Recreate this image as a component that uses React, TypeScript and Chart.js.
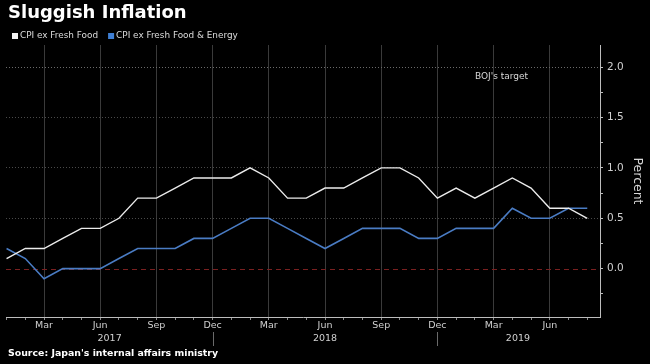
import { useEffect, useRef } from 'react';
import { Chart, registerables } from 'chart.js';

Chart.register(...registerables);

const months = [
  '2017-01', '2017-02', '2017-03', '2017-04', '2017-05', '2017-06', '2017-07', '2017-08', '2017-09', '2017-10', '2017-11', '2017-12',
  '2018-01', '2018-02', '2018-03', '2018-04', '2018-05', '2018-06', '2018-07', '2018-08', '2018-09', '2018-10', '2018-11', '2018-12',
  '2019-01', '2019-02', '2019-03', '2019-04', '2019-05', '2019-06', '2019-07', '2019-08',
];

const cpiExFreshFood = [
  0.1, 0.2, 0.2, 0.3, 0.4, 0.4, 0.5, 0.7, 0.7, 0.8, 0.9, 0.9,
  0.9, 1.0, 0.9, 0.7, 0.7, 0.8, 0.8, 0.9, 1.0, 1.0, 0.9, 0.7,
  0.8, 0.7, 0.8, 0.9, 0.8, 0.6, 0.6, 0.5,
];

const cpiExFreshFoodEnergy = [
  0.2, 0.1, -0.1, 0.0, 0.0, 0.0, 0.1, 0.2, 0.2, 0.2, 0.3, 0.3,
  0.4, 0.5, 0.5, 0.4, 0.3, 0.2, 0.3, 0.4, 0.4, 0.4, 0.3, 0.3,
  0.4, 0.4, 0.4, 0.6, 0.5, 0.5, 0.6, 0.6,
];

const monthNames = ['Jan', 'Feb', 'Mar', 'Apr', 'May', 'Jun', 'Jul', 'Aug', 'Sep', 'Oct', 'Nov', 'Dec'];
const quarterLabels = ['Mar', 'Jun', 'Sep', 'Dec'];
const yTickValues = [-0.25, 0, 0.25, 0.5, 0.75, 1.0, 1.25, 1.5, 1.75, 2.0];
const yearLabels = ['2017', '2018', '2019'];
const yearLabelAt = [5.5, 17.0, 27.3];
const bojTarget = 2.0;

const seriesNames = ['CPI ex Fresh Food', 'CPI ex Fresh Food & Energy'];
const seriesColors = ['#ececec', '#4a7cc4'];

const FONT = '"DejaVu Sans", Verdana, sans-serif';

function monthLabel(i: number) {
  const m = months[i];
  if (!m) return '';
  const name = monthNames[parseInt(m.slice(5, 7), 10) - 1];
  return quarterLabels.includes(name) ? name : '';
}

const decorPlugin = {
  id: 'decor',
  beforeDatasetsDraw(chart: any) {
    const { ctx, chartArea, scales } = chart;
    const y = scales.y;
    // red dashed zero line
    const y0 = y.getPixelForValue(0);
    ctx.save();
    ctx.strokeStyle = '#7a2020';
    ctx.lineWidth = 1;
    ctx.setLineDash([5, 4]);
    ctx.beginPath();
    ctx.moveTo(chartArea.left, Math.round(y0) + 0.5);
    ctx.lineTo(chartArea.right, Math.round(y0) + 0.5);
    ctx.stroke();
    ctx.restore();

    // BOJ target label
    ctx.save();
    ctx.fillStyle = '#d8d8d8';
    ctx.font = `9px ${FONT}`;
    ctx.textBaseline = 'middle';
    ctx.textAlign = 'left';
    ctx.fillText("BOJ's target", 475, y.getPixelForValue(bojTarget) + 9);
    ctx.restore();
  },
  afterDraw(chart: any) {
    const { ctx, chartArea, scales } = chart;
    const x = scales.x;
    ctx.save();
    // title
    ctx.fillStyle = '#ffffff';
    ctx.font = `bold 18px ${FONT}`;
    ctx.textBaseline = 'alphabetic';
    ctx.textAlign = 'left';
    ctx.fillText('Sluggish Inflation', 8, 18);

    // legend
    ctx.font = `8.9px ${FONT}`;
    ctx.textBaseline = 'middle';
    let lx = 12;
    seriesNames.forEach((name, i) => {
      ctx.fillStyle = i === 0 ? '#f2f2f2' : '#3f7fd3';
      ctx.fillRect(lx, 33, 6, 6);
      ctx.fillStyle = '#dcdcdc';
      ctx.fillText(name, lx + 8, 36);
      lx += 8 + ctx.measureText(name).width + 10;
    });

    // year separators at Dec
    ctx.strokeStyle = '#6a6a6a';
    ctx.lineWidth = 1;
    months.forEach((m, i) => {
      if (m.endsWith('-12')) {
        const px = Math.round(x.getPixelForValue(i)) + 0.5;
        ctx.beginPath();
        ctx.moveTo(px, chartArea.bottom + 15);
        ctx.lineTo(px, 346);
        ctx.stroke();
      }
    });

    // year labels
    ctx.fillStyle = '#d0d0d0';
    ctx.font = `9.5px ${FONT}`;
    ctx.textAlign = 'center';
    ctx.textBaseline = 'middle';
    yearLabels.forEach((yl, i) => {
      ctx.fillText(yl, x.getPixelForValue(yearLabelAt[i]), 339);
    });

    // source
    ctx.fillStyle = '#ffffff';
    ctx.font = `bold 9.4px ${FONT}`;
    ctx.textAlign = 'left';
    ctx.textBaseline = 'alphabetic';
    ctx.fillText("Source: Japan's internal affairs ministry", 8, 356);
    ctx.restore();
  },
};

export default function App() {
  const ref = useRef<HTMLCanvasElement | null>(null);

  useEffect(() => {
    document.body.style.margin = '0';
    document.body.style.background = '#000';
    const canvas = ref.current;
    if (!canvas) return;
    const chart = new Chart(canvas, {
      type: 'line',
      data: {
        datasets: [
          {
            label: seriesNames[0],
            data: cpiExFreshFood.map((v, i) => ({ x: i, y: v })),
            borderColor: seriesColors[0],
            borderWidth: 1.4,
            pointRadius: 0,
            tension: 0,
          },
          {
            label: seriesNames[1],
            data: cpiExFreshFoodEnergy.map((v, i) => ({ x: i, y: v })),
            borderColor: seriesColors[1],
            borderWidth: 1.6,
            pointRadius: 0,
            tension: 0,
          },
        ],
      },
      options: {
        animation: false,
        responsive: false,
        devicePixelRatio: 1,
        layout: { padding: { left: 6, top: 45, right: 0, bottom: 0 } },
        plugins: {
          legend: { display: false },
          title: { display: false },
          tooltip: { enabled: false },
        },
        scales: {
          x: {
            type: 'linear',
            min: -0.03,
            max: 31.68,
            afterBuildTicks: (scale: any) => {
              scale.ticks = months.map((_, i) => ({ value: i }));
            },
            afterFit: (scale: any) => {
              scale.height = 47;
            },
            ticks: {
              autoSkip: false,
              maxRotation: 0,
              padding: 0,
              color: '#d0d0d0',
              font: { family: FONT, size: 9.5 },
              callback: (v: any) => monthLabel(Number(v)),
            },
            grid: {
              color: (c: any) => (monthLabel(c.tick?.value) ? '#3a3a3a' : 'rgba(0,0,0,0)'),
              tickColor: '#8a8a8a',
              tickLength: 3,
              lineWidth: 1,
            },
            border: { display: true, color: '#bdbdbd', width: 1 },
          },
          y: {
            type: 'linear',
            position: 'right',
            min: -0.48,
            max: 2.22,
            afterBuildTicks: (scale: any) => {
              scale.ticks = yTickValues.map((v) => ({ value: v }));
            },
            afterFit: (scale: any) => {
              scale.width = 50;
            },
            ticks: {
              padding: 4,
              color: '#d0d0d0',
              font: { family: FONT, size: 10.5 },
              callback: (v: any) => {
                const n = Number(v);
                if (n < 0) return '';
                return Math.abs(n * 2 - Math.round(n * 2)) < 1e-6 ? n.toFixed(1) : '';
              },
            },
            grid: {
              color: (c: any) => {
                const v = c.tick?.value;
                if (v === undefined || v <= 0) return 'rgba(0,0,0,0)';
                if (Math.abs(v * 2 - Math.round(v * 2)) > 1e-6) return 'rgba(0,0,0,0)';
                return v === bojTarget ? '#6a6a6a' : '#4a4a4a';
              },
              tickColor: '#bdbdbd',
              tickLength: 3,
              lineWidth: 1,
            },
            border: { display: true, color: '#bdbdbd', width: 1, dash: [1, 2] },
            title: {
              display: true,
              text: 'Percent',
              color: '#d8d8d8',
              font: { family: FONT, size: 12.5 },
              padding: { top: 5, bottom: 0 },
            },
          },
        },
      },
      plugins: [decorPlugin],
    } as any);
    return () => chart.destroy();
  }, []);

  return (
    <div style={{ position: 'absolute', left: 0, top: 0, width: 650, height: 364, background: '#000' }}>
      <canvas ref={ref} width={650} height={364} style={{ width: 650, height: 364, display: 'block' }} />
    </div>
  );
}
